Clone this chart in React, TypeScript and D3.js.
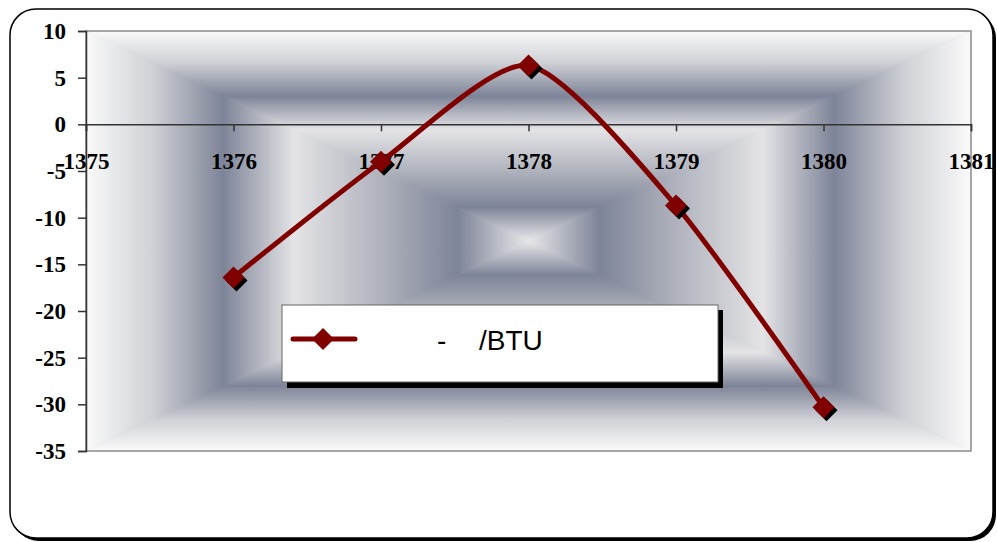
import React, { useEffect, useRef } from 'react';
import * as d3 from 'd3';

// chart data
const years = [1376, 1377, 1378, 1379, 1380];
const values = [-16.4, -4.0, 6.3, -8.7, -30.3];
const xTicks = [1375, 1376, 1377, 1378, 1379, 1380, 1381];
const yTicks = [10, 5, 0, -5, -10, -15, -20, -25, -30, -35];

// rectangular gradient stops (0 = edge, 1 = centre)
const bgStops = [
  { t: 0, c: '#fafafa' },
  { t: 0.15, c: '#cfd1d6' },
  { t: 0.31, c: '#7e8498' },
  { t: 0.47, c: '#e4e4e6' },
  { t: 0.65, c: '#b4b7c0' },
  { t: 0.84, c: '#7e8498' },
  { t: 1, c: '#e8e8ea' },
];

const W = 997;
const H = 542;

const App = () => {
  const ref = useRef<SVGSVGElement>(null);

  useEffect(() => {
    const svg = d3.select(ref.current);
    svg.selectAll('*').remove();

    const plot = { left: 86, right: 971, top: 31, bottom: 451 };
    const cx = (plot.left + plot.right) / 2;
    const cy = (plot.top + plot.bottom) / 2;

    const x = d3.scaleLinear().domain([1375, 1381]).range([plot.left, plot.right]);
    const y = d3.scaleLinear().domain([-35, 10]).range([plot.bottom, plot.top]);

    const defs = svg.append('defs');

    // outer frame with shadow
    svg.append('rect')
      .attr('x', 13).attr('y', 12)
      .attr('width', 983).attr('height', 529)
      .attr('rx', 26).attr('fill', '#000');
    svg.append('rect')
      .attr('x', 10).attr('y', 9)
      .attr('width', 983).attr('height', 529)
      .attr('rx', 26).attr('fill', '#fff')
      .attr('stroke', '#000').attr('stroke-width', 1.5);

    // background: four triangles, each with a linear gradient
    const parts = [
      { id: 'gTop', x1: cx, y1: plot.top, x2: cx, y2: cy,
        pts: [[plot.left, plot.top], [plot.right, plot.top], [cx, cy]] },
      { id: 'gBottom', x1: cx, y1: plot.bottom, x2: cx, y2: cy,
        pts: [[plot.left, plot.bottom], [plot.right, plot.bottom], [cx, cy]] },
      { id: 'gLeft', x1: plot.left, y1: cy, x2: cx, y2: cy,
        pts: [[plot.left, plot.top], [plot.left, plot.bottom], [cx, cy]] },
      { id: 'gRight', x1: plot.right, y1: cy, x2: cx, y2: cy,
        pts: [[plot.right, plot.top], [plot.right, plot.bottom], [cx, cy]] },
    ];
    parts.forEach(p => {
      const lg = defs.append('linearGradient')
        .attr('id', p.id)
        .attr('gradientUnits', 'userSpaceOnUse')
        .attr('x1', p.x1).attr('y1', p.y1)
        .attr('x2', p.x2).attr('y2', p.y2);
      bgStops.forEach(s => {
        lg.append('stop').attr('offset', s.t).attr('stop-color', s.c);
      });
    });

    svg.append('rect')
      .attr('x', plot.left).attr('y', plot.top)
      .attr('width', plot.right - plot.left).attr('height', plot.bottom - plot.top)
      .attr('fill', '#b4b7c0');
    parts.forEach(p => {
      svg.append('polygon')
        .attr('points', p.pts.map(d => d.join(',')).join(' '))
        .attr('fill', `url(#${p.id})`)
        .attr('stroke', `url(#${p.id})`)
        .attr('stroke-width', 0.6);
    });

    // plot area border
    svg.append('rect')
      .attr('x', plot.left).attr('y', plot.top)
      .attr('width', plot.right - plot.left).attr('height', plot.bottom - plot.top)
      .attr('fill', 'none').attr('stroke', '#8a8a8a').attr('stroke-width', 1.5);

    const serif = '"Liberation Serif", "Times New Roman", serif';
    const fmt = (d: any) => String(d);

    // y axis
    const yAxis = svg.append('g')
      .attr('transform', `translate(${plot.left},0)`)
      .call(d3.axisLeft(y).tickValues(yTicks).tickSize(8).tickPadding(12).tickFormat(fmt));
    yAxis.select('.domain').attr('stroke', '#333').attr('stroke-width', 1.5);
    yAxis.selectAll('.tick line').attr('stroke', '#333').attr('stroke-width', 1.5);
    yAxis.selectAll('.tick text')
      .attr('font-family', serif).attr('font-weight', 'bold')
      .attr('font-size', 23).attr('fill', '#000');

    // x axis at zero
    const xAxis = svg.append('g')
      .attr('transform', `translate(0,${y(0)})`)
      .call(d3.axisBottom(x).tickValues(xTicks).tickSize(7).tickPadding(21).tickFormat(fmt));
    xAxis.select('.domain').attr('stroke', '#333').attr('stroke-width', 1.5);
    xAxis.selectAll('.tick line').attr('stroke', '#333').attr('stroke-width', 1.5);
    xAxis.selectAll('.tick text')
      .attr('font-family', serif).attr('font-weight', 'bold')
      .attr('font-size', 23).attr('fill', '#000');

    // series line
    const pts = years.map((yr, i) => [x(yr), y(values[i])] as [number, number]);
    const line = d3.line().curve(d3.curveCardinal.tension(0.3));
    svg.append('path')
      .attr('d', line(pts))
      .attr('fill', 'none')
      .attr('stroke', '#800000')
      .attr('stroke-width', 5)
      .attr('stroke-linejoin', 'round');

    const diamond = (r: number) => `M0,${-r}L${r},0L0,${r}L${-r},0Z`;

    // marker shadows then markers
    svg.append('g').selectAll('path')
      .data(pts)
      .enter()
      .append('path')
      .attr('transform', d => `translate(${d[0] + 3},${d[1] + 3})`)
      .attr('d', diamond(11))
      .attr('fill', '#000');
    svg.append('g').selectAll('path')
      .data(pts)
      .enter()
      .append('path')
      .attr('transform', d => `translate(${d[0]},${d[1]})`)
      .attr('d', diamond(11))
      .attr('fill', '#800000');

    // legend
    const lg = svg.append('g');
    lg.append('rect')
      .attr('x', 287).attr('y', 310)
      .attr('width', 436).attr('height', 78)
      .attr('fill', '#000');
    lg.append('rect')
      .attr('x', 282).attr('y', 305)
      .attr('width', 436).attr('height', 77)
      .attr('fill', '#fff').attr('stroke', '#666').attr('stroke-width', 1);
    lg.append('line')
      .attr('x1', 293).attr('x2', 355)
      .attr('y1', 339).attr('y2', 339)
      .attr('stroke', '#800000').attr('stroke-width', 5)
      .attr('stroke-linecap', 'round');
    lg.append('path')
      .attr('transform', 'translate(323,339)')
      .attr('d', diamond(11))
      .attr('fill', '#800000');
    const sans = '"Liberation Sans", Arial, sans-serif';
    lg.append('text')
      .attr('x', 437).attr('y', 350)
      .attr('font-family', sans).attr('font-size', 28)
      .text('-');
    lg.append('text')
      .attr('x', 479).attr('y', 350)
      .attr('font-family', sans).attr('font-size', 28)
      .text('/BTU');
  }, []);

  return (
    <svg
      ref={ref}
      width={W}
      height={H}
      style={{ position: 'absolute', left: 0, top: 0, background: '#fff' }}
    />
  );
};

export default App;
